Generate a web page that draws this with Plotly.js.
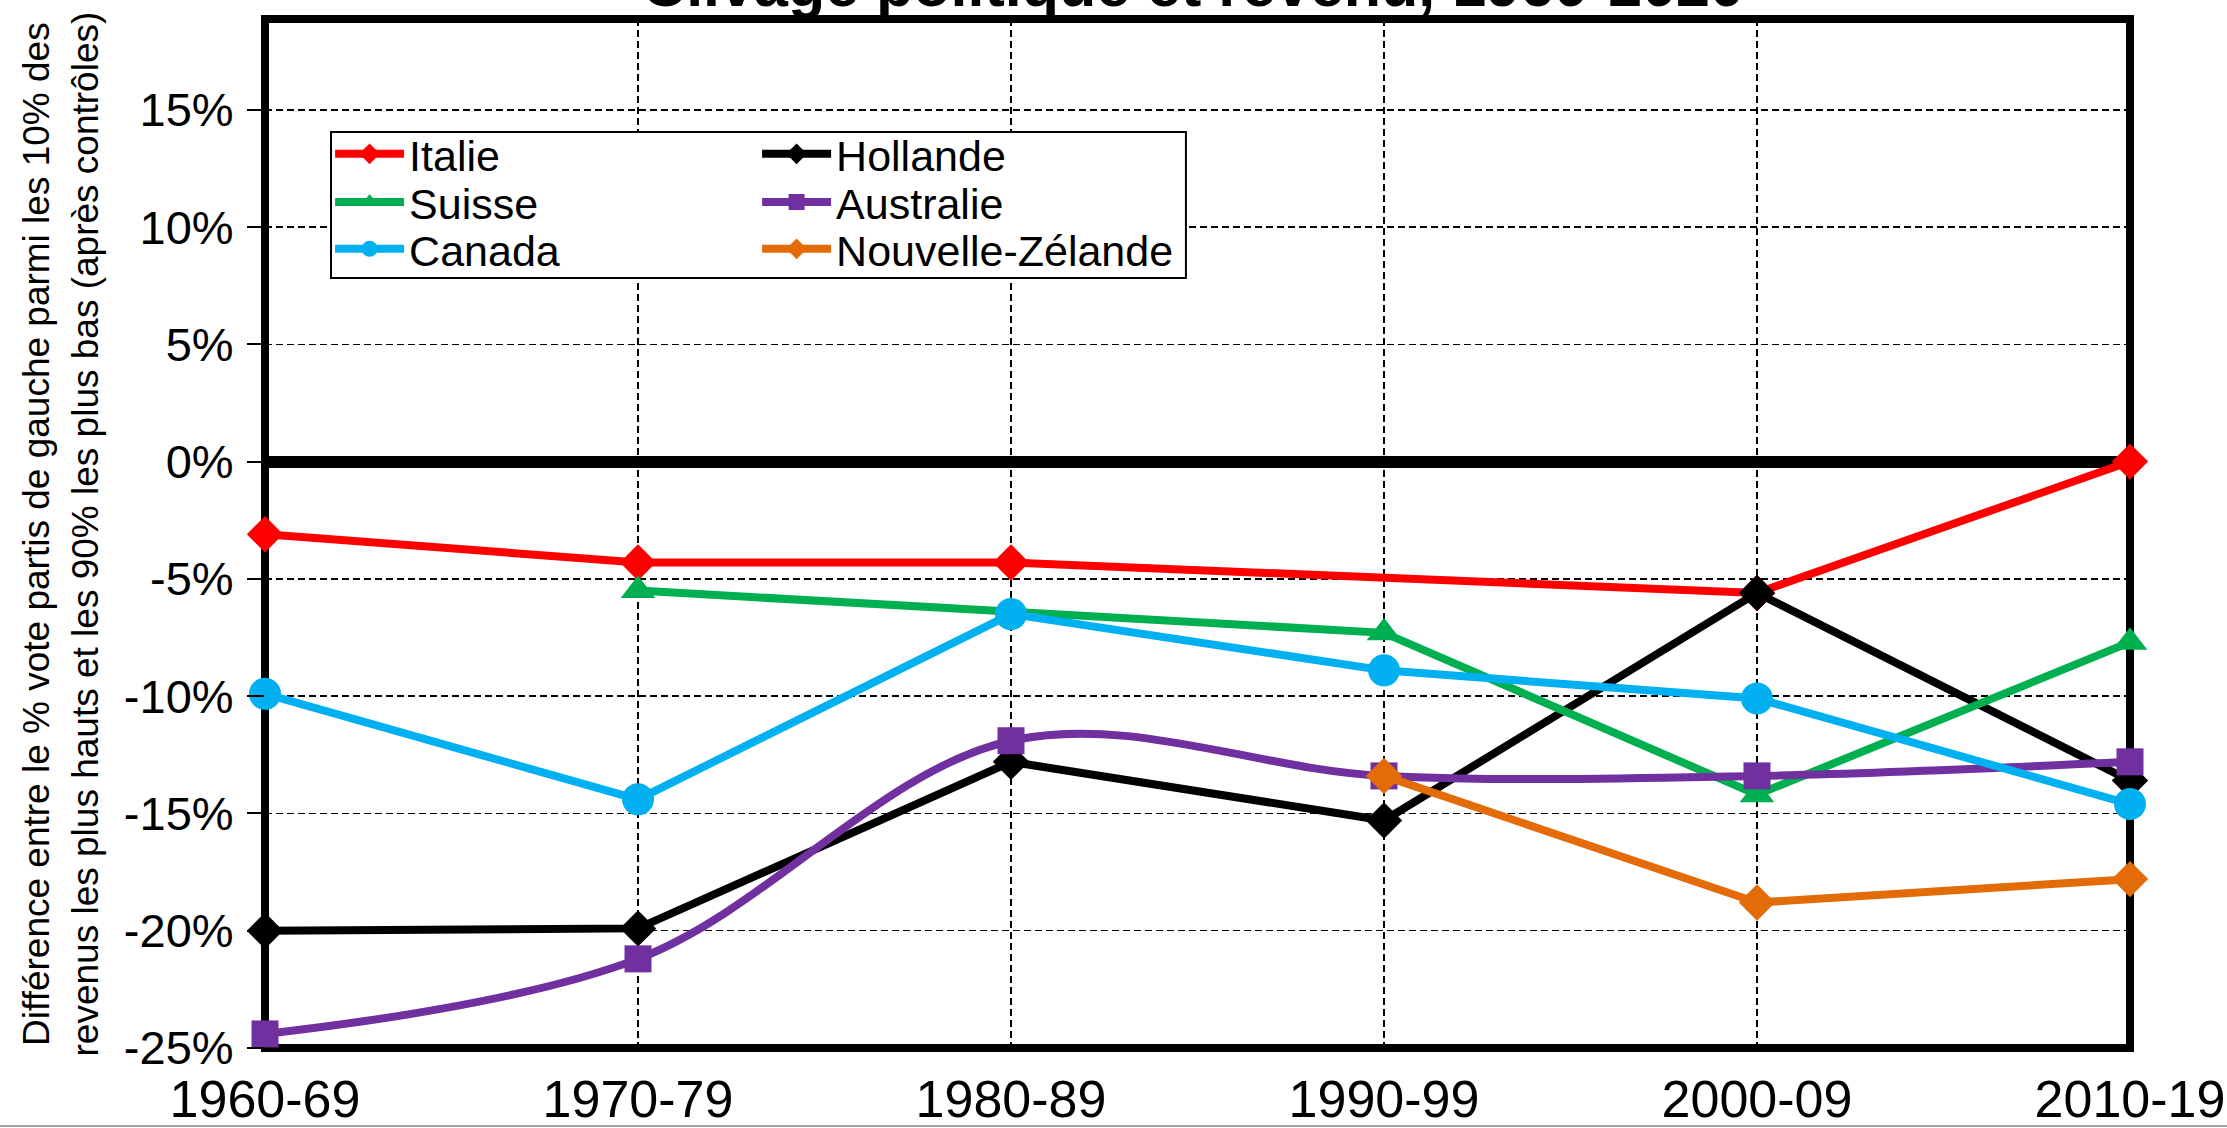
<!DOCTYPE html>
<html><head><meta charset="utf-8">
<script src="https://cdn.plot.ly/plotly-3.0.1.min.js"></script>
<style>html,body{margin:0;padding:0;background:#fff}#chart{width:2227px;height:1128px}</style>
</head><body><div id="chart"></div>
<script>
const periods = ['1960-69','1970-79','1980-89','1990-99','2000-09','2010-19'];
const italie    = [-3.1, -4.3, -4.3, null, -5.6, 0.0];
const hollande  = [-20.0, -19.9, -12.8, -15.3, -5.6, -13.6];
const suisse    = [null, -5.5, -6.4, -7.3, -14.2, -7.7];
const australie = [-24.4, -21.2, -11.9, -13.4, -13.4, -12.8];
const canada    = [-9.9, -14.4, -6.5, -8.9, -10.1, -14.6];
const nzelande  = [null, null, null, -13.4, -18.8, -17.8];
const yTickVals = [-25, -20, -15, -10, -5, 0, 5, 10, 15];
const yTickText = ['-25%','-20%','-15%','-10%','-5%','0%','5%','10%','15%'];
const titleText = 'Clivage politique et revenu, 1960-2020';
const yTitleText = 'Différence entre le % vote partis de gauche parmi les 10% des<br>revenus les plus hauts et les 90% les plus bas (après contrôles)';

const FONT = 'Liberation Sans, Arial, sans-serif';
const LW = 8;

function tr(name, y, color, symbol, size, legend, extra) {
  return Object.assign({
    type: 'scatter', mode: 'lines+markers', name: name, x: periods, y: y,
    line: {color: color, width: LW},
    marker: {color: color, symbol: symbol, size: size},
    connectgaps: true, legend: legend, hoverinfo: 'skip', cliponaxis: false
  }, extra || {});
}

const data = [
  tr('Italie', italie, '#FF0000', 'diamond', 28, 'legend'),
  tr('Hollande', hollande, '#000000', 'diamond', 28, 'legend'),
  tr('Suisse', suisse, '#00B050', 'triangle-up', 30, 'legend2'),
  tr('Australie', australie, '#7030A0', 'square', 27, 'legend2', {line: {color: '#7030A0', width: LW, shape: 'spline', smoothing: 1}}),
  tr('Canada', canada, '#00B0F0', 'circle', 32, 'legend3'),
  tr('Nouvelle-Zélande', nzelande, '#E36C09', 'diamond', 28, 'legend3')
];

const legendCommon = {
  orientation: 'h', xanchor: 'left', yanchor: 'middle', x: 0.0349,
  bgcolor: 'rgba(0,0,0,0)', borderwidth: 0,
  font: {family: FONT, size: 43, color: '#000'},
  itemwidth: 69, entrywidth: 343, entrywidthmode: 'pixels', traceorder: 'normal'
};

const layout = {
  width: 2227, height: 1128,
  margin: {l: 265, r: 97, t: 19, b: 80},
  paper_bgcolor: '#fff', plot_bgcolor: '#fff',
  font: {family: FONT, color: '#000'},
  title: {text: '<b>' + titleText + '</b>', font: {family: FONT, size: 61, color: '#000'},
          xref: 'paper', x: 0.4976, xanchor: 'center', yref: 'container', y: 0.9947, yanchor: 'bottom'},
  xaxis: {
    type: 'category', categoryarray: periods, range: [0, 5],
    showline: false,
    showgrid: true, gridcolor: '#000', gridwidth: 1.5, griddash: '7px,4px',
    ticks: '', ticklabelstandoff: 16,
    tickfont: {family: FONT, size: 52, color: '#000'},
    zeroline: false, fixedrange: true
  },
  yaxis: {
    range: [-25, 18.87], tickvals: yTickVals, ticktext: yTickText,
    showline: false,
    showgrid: true, gridcolor: '#000', gridwidth: 1.5, griddash: '7px,4px',
    ticks: 'outside', ticklen: 17, tickwidth: 2, tickcolor: '#000', ticklabelstandoff: 4,
    tickfont: {family: FONT, size: 47, color: '#000'},
    zeroline: true, zerolinecolor: '#000', zerolinewidth: 12, fixedrange: true
  },
  legend: Object.assign({}, legendCommon, {y: 0.8689}),
  legend2: Object.assign({}, legendCommon, {y: 0.8222}),
  legend3: Object.assign({}, legendCommon, {y: 0.7766}),
  shapes: [
    {type: 'rect', xref: 'paper', yref: 'paper', x0: 0, x1: 1, y0: 0, y1: 1,
     line: {color: '#000', width: 8}, fillcolor: 'rgba(0,0,0,0)', layer: 'between'},
    {type: 'rect', xref: 'paper', yref: 'paper', x0: 0.0354, x1: 0.4938, y0: 0.7483, y1: 0.8902,
     line: {color: '#000', width: 2}, fillcolor: '#fff', layer: 'above'},
    {type: 'line', xref: 'paper', yref: 'paper', x0: -0.1421, x1: 1.052, y0: -0.0758, y1: -0.0758,
     line: {color: '#a0a0a0', width: 2}, layer: 'above'}
  ],
  annotations: [
    {text: yTitleText, xref: 'paper', yref: 'paper', x: -0.1094, y: 0.5, xanchor: 'center', yanchor: 'middle',
     textangle: -90, showarrow: false, font: {family: FONT, size: 37, color: '#000'}}
  ],
  showlegend: true
};

Plotly.newPlot('chart', data, layout, {displayModeBar: false, staticPlot: true});
</script>
</body></html>
